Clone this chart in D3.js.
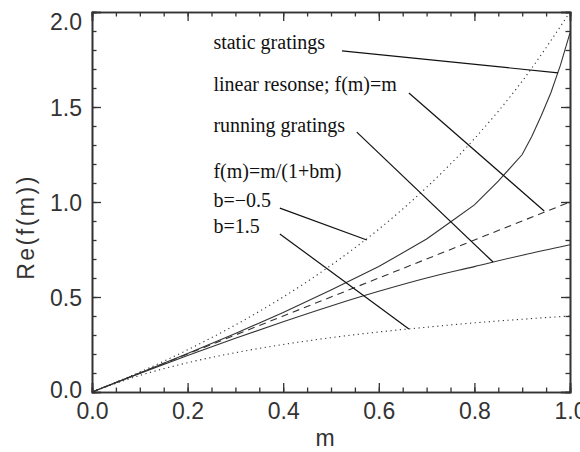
<!DOCTYPE html>
<html lang="en">
<head>
    <meta charset="UTF-8">
    <title>Re(f(m))</title>
    <style>
        body { margin: 0; background: #fff; }
        svg { display: block; }
    </style>
</head>
<body>
    <script src="https://cdn.jsdelivr.net/npm/d3@7"></script>
    <script>
        // valeurs
        const mGrille = [0, 0.1, 0.2, 0.3, 0.4, 0.5, 0.6, 0.7, 0.8, 0.9, 1.0]
        const lineaire = [0, 0.1, 0.2, 0.3, 0.4, 0.5, 0.6, 0.7, 0.8, 0.9, 1.0]
        const bMoins05 = [0, 0.105, 0.222, 0.353, 0.5, 0.667, 0.857, 1.077, 1.333, 1.636, 2.0]
        const bPlus15 = [0, 0.087, 0.154, 0.207, 0.25, 0.286, 0.316, 0.341, 0.364, 0.383, 0.4]
        const running = [0, 0.098, 0.192, 0.283, 0.37, 0.453, 0.53, 0.6, 0.66, 0.72, 0.775]

        const mStatic = [0, 0.1, 0.2, 0.3, 0.4, 0.5, 0.6, 0.7, 0.75, 0.8, 0.85, 0.9, 0.92, 0.94, 0.96, 0.98, 1.0]
        const vStatic = [0, 0.1, 0.203, 0.308, 0.418, 0.537, 0.66, 0.805, 0.895, 0.985, 1.11, 1.25, 1.345, 1.455, 1.575, 1.72, 1.89]

        const ticksX = [0, 0.2, 0.4, 0.6, 0.8, 1.0]
        const ticksY = [0, 0.5, 1.0, 1.5, 2.0]

        // annotations : texte, position du texte, segment [m0, v0, m1, v1]
        const textes = ['static gratings', 'linear resonse; f(m)=m', 'running gratings',
            'f(m)=m/(1+bm)', 'b=\u22120.5', 'b=1.5']
        const texteM = [0.254, 0.254, 0.254, 0.254, 0.254, 0.254]
        const texteV = [1.805, 1.585, 1.37, 1.126, 0.974, 0.837]
        const fleches = [
            [0.523, 1.795, 0.975, 1.68],
            [0.663, 1.574, 0.946, 0.953],
            [0.554, 1.368, 0.839, 0.684],
            [0.393, 0.968, 0.575, 0.80],
            [0.393, 0.832, 0.663, 0.332]
        ]

        const largeur = 580, hauteur = 452
        const gauche = 92, droite = 570, haut = 12, bas = 392

        const canevas = d3.select('body').append('svg')
            .attr('width', largeur)
            .attr('height', hauteur)

        const x = d3.scaleLinear().domain([0, 1]).range([gauche, droite])
        const y = d3.scaleLinear().domain([0, 2]).range([bas, haut])

        // axes : ticks vers l'intérieur sur les quatre côtés
        const mineursX = d3.range(0, 1.0001, 0.05)
        const mineursY = d3.range(0, 2.0001, 0.1)

        function styleAxe(g) {
            g.selectAll('path, line').attr('stroke', '#333').attr('stroke-width', 1.3)
            g.select('.domain').attr('stroke-width', 1.6)
            g.selectAll('text')
                .attr('font-family', 'Liberation Sans, Arial, sans-serif')
                .attr('font-size', 23)
                .attr('fill', '#333')
        }

        // mineurs
        canevas.append('g').attr('transform', `translate(0,${bas})`)
            .call(d3.axisBottom(x).tickValues(mineursX).tickSize(-4.5).tickFormat(''))
            .call(styleAxe)
        canevas.append('g').attr('transform', `translate(0,${haut})`)
            .call(d3.axisTop(x).tickValues(mineursX).tickSize(-4.5).tickFormat(''))
            .call(styleAxe)
        canevas.append('g').attr('transform', `translate(${gauche},0)`)
            .call(d3.axisLeft(y).tickValues(mineursY).tickSize(-4.5).tickFormat(''))
            .call(styleAxe)
        canevas.append('g').attr('transform', `translate(${droite},0)`)
            .call(d3.axisRight(y).tickValues(mineursY).tickSize(-4.5).tickFormat(''))
            .call(styleAxe)

        // majeurs
        canevas.append('g').attr('transform', `translate(0,${bas})`)
            .call(d3.axisBottom(x).tickValues(ticksX).tickSize(-9).tickPadding(11).tickFormat(d3.format('.1f')))
            .call(styleAxe)
        canevas.append('g').attr('transform', `translate(0,${haut})`)
            .call(d3.axisTop(x).tickValues(ticksX).tickSize(-9).tickFormat(''))
            .call(styleAxe)
        const axeY = canevas.append('g').attr('transform', `translate(${gauche},0)`)
            .call(d3.axisLeft(y).tickValues(ticksY).tickSize(-9).tickPadding(10).tickFormat(d3.format('.1f')))
            .call(styleAxe)
        canevas.append('g').attr('transform', `translate(${droite},0)`)
            .call(d3.axisRight(y).tickValues(ticksY).tickSize(-9).tickFormat(''))
            .call(styleAxe)

        // les étiquettes extrêmes restent dans le cadre
        axeY.selectAll('.tick text')
            .attr('dy', d => d === 2 ? '0.78em' : d === 0 ? '0.22em' : '0.35em')

        // titres des axes
        canevas.append('text')
            .attr('x', 325).attr('y', 446)
            .attr('text-anchor', 'middle')
            .attr('font-family', 'Liberation Sans, Arial, sans-serif')
            .attr('font-size', 23)
            .attr('fill', '#333')
            .text('m')

        canevas.append('text')
            .attr('transform', 'translate(34,227) rotate(-90)')
            .attr('text-anchor', 'middle')
            .attr('font-family', 'Liberation Sans, Arial, sans-serif')
            .attr('font-size', 23)
            .attr('letter-spacing', 2.5)
            .attr('fill', '#333')
            .text('Re(f(m))')

        // courbes
        const ligne = d3.line()
            .x(d => x(d[0]))
            .y(d => y(d[1]))

        function tracer(ms, vs, pointilles, courbe) {
            canevas.append('path')
                .datum(ms.map((m, i) => [m, vs[i]]))
                .attr('d', ligne.curve(courbe))
                .attr('fill', 'none')
                .attr('stroke', '#333')
                .attr('stroke-width', 1.1)
                .attr('stroke-dasharray', pointilles)
        }

        tracer(mGrille, bMoins05, '1.2,3.5', d3.curveMonotoneX)
        tracer(mGrille, bPlus15, '1.2,3.5', d3.curveMonotoneX)
        tracer(mGrille, lineaire, '7,5', d3.curveLinear)
        tracer(mGrille, running, null, d3.curveMonotoneX)
        tracer(mStatic, vStatic, null, d3.curveLinear)

        // annotations
        canevas.append('g').selectAll('line')
            .data(fleches)
            .enter()
            .append('line')
                .attr('x1', d => x(d[0]))
                .attr('y1', d => y(d[1]))
                .attr('x2', d => x(d[2]))
                .attr('y2', d => y(d[3]))
                .attr('stroke', '#111')
                .attr('stroke-width', 1.2)

        canevas.append('g').selectAll('text')
            .data(textes)
            .enter()
            .append('text')
                .attr('x', (d, i) => x(texteM[i]))
                .attr('y', (d, i) => y(texteV[i]))
                .attr('font-family', 'Liberation Serif, Times New Roman, serif')
                .attr('font-size', 20)
                .attr('fill', '#111')
                .text(d => d)
    </script>
</body>
</html>
